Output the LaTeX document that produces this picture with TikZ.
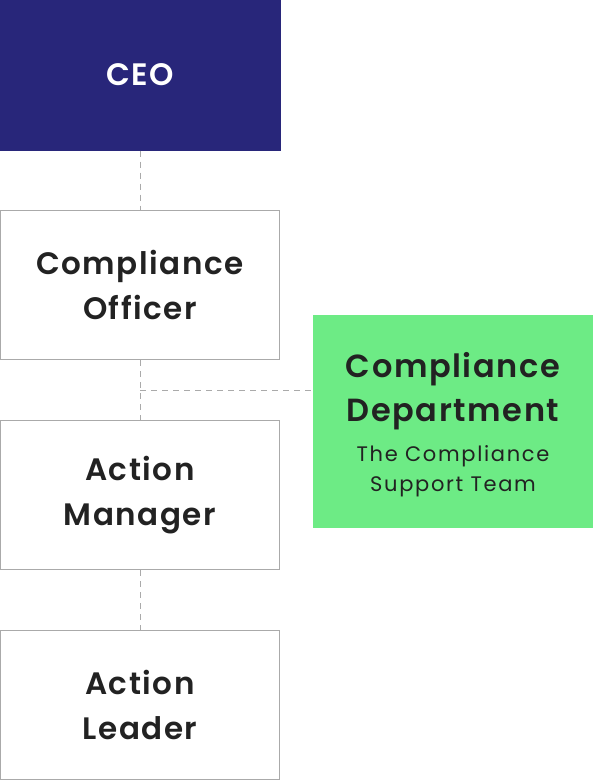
\documentclass[tikz,border=0pt]{standalone}
\usepackage{fontspec}
\setmainfont{Poppins}[BoldFont={Poppins SemiBold}]
\usepackage{tikz}
\usetikzlibrary{positioning}
\usepackage{xcolor}

\definecolor{ceoblue}{HTML}{28267A}
\definecolor{deptgreen}{HTML}{6DEB85}
\definecolor{boxgray}{HTML}{AAAAAA}
\definecolor{inkdark}{HTML}{222222}

\tikzset{
    rolebox/.style={draw=boxgray, line width=1pt, fill=white, minimum width=279pt,
        minimum height=149pt, align=center, text=inkdark,
        font=\fontsize{31}{45}\selectfont\bfseries\addfontfeatures{LetterSpace=5}},
    link/.style={draw=boxgray, line width=1pt, dash pattern=on 6pt off 5pt}
}

\begin{document}
\begin{tikzpicture}[x=1pt, y=-1pt]
        \useasboundingbox (0,0) rectangle (593,780);
        \node[rolebox, fill=ceoblue, draw=ceoblue, text=white, minimum width=280pt, minimum height=150pt] (ceo) at (140,75) {CEO};
        \foreach \n/\y/\t in {officer/285/Compliance\\Officer, manager/495/Action\\Manager, leader/705/Action\\Leader}
        {
            \node[rolebox] (\n) at (140,\y) {\t};
        }
        \node[rolebox, draw=none, fill=deptgreen, minimum width=280pt, minimum height=213pt] (dept) at (453,421.5) {};
        \node[text=inkdark, align=center, font=\fontsize{32}{44}\selectfont\bfseries\addfontfeatures{LetterSpace=5}] (depttitle) at (453,391) {Compliance\\Department};
        \node[text=inkdark, align=center, font=\fontsize{21}{30}\selectfont\addfontfeatures{LetterSpace=8}] (deptsub) at (453,471) {The Compliance\\Support Team};
        \draw[link] (ceo) -- (officer);
        \draw[link] (officer) -- (manager);
        \draw[link] (manager) -- (leader);
        \coordinate (junction) at (140,390);
        \draw[link] (junction) -- (dept.west |- junction);
    \end{tikzpicture}
\end{document}
